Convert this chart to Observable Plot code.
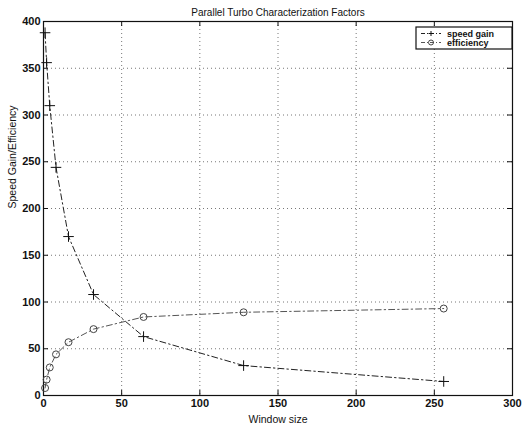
<!DOCTYPE html>
<html>
<head>
<meta charset="utf-8">
<script src="https://cdn.jsdelivr.net/npm/d3@7"></script>
<script src="https://cdn.jsdelivr.net/npm/@observablehq/plot@0.6"></script>
<style>
  html, body { margin: 0; padding: 0; background: #fff; }
  svg { display: block; }
</style>
</head>
<body>
<div id="chart"></div>
<script>
const windowSize = [1, 2, 4, 8, 16, 32, 64, 128, 256];
const speedGain = [388, 356, 310, 244, 170, 108, 63, 32, 15];
const efficiency = [8, 17, 30, 44, 57, 71, 84, 89, 93];
const xTicks = [0, 50, 100, 150, 200, 250, 300];
const yTicks = [0, 50, 100, 150, 200, 250, 300, 350, 400];
const seriesNames = ["speed gain", "efficiency"];
const titleText = "Parallel Turbo Characterization Factors";
const xLabel = "Window size";
const yLabel = "Speed Gain/Efficiency";

const sg = windowSize.map((w, i) => ({w, v: speedGain[i]}));
const ef = windowSize.map((w, i) => ({w, v: efficiency[i]}));

const W = 522, H = 427, mL = 43, mR = 10, mT = 21, mB = 32;
const innerW = W - mL - mR, innerH = H - mT - mB;
const font = "'Liberation Sans', Arial, sans-serif";
const dashDot = "6,3,1.5,3";

const chart = Plot.plot({
  width: W, height: H,
  marginLeft: mL, marginRight: mR, marginTop: mT, marginBottom: mB,
  style: {fontFamily: font, background: "#fff", color: "#111"},
  x: {domain: [0, 300]},
  y: {domain: [0, 400]},
  marks: [
    Plot.ruleX(xTicks.slice(1, -1), {stroke: "#777", strokeDasharray: "1,3"}),
    Plot.ruleY(yTicks.slice(1, -1), {stroke: "#777", strokeDasharray: "1,3"}),
    Plot.frame({stroke: "#111", strokeWidth: 1.2}),
    Plot.tickX(xTicks, {x: d => d, insetTop: innerH - 5, stroke: "#111"}),
    Plot.tickX(xTicks, {x: d => d, insetBottom: innerH - 5, stroke: "#111"}),
    Plot.tickY(yTicks, {y: d => d, insetRight: innerW - 5, stroke: "#111"}),
    Plot.tickY(yTicks, {y: d => d, insetLeft: innerW - 5, stroke: "#111"}),
    Plot.axisX({ticks: xTicks, tickSize: 0, tickPadding: 4, label: null, fontSize: 11, fontWeight: "bold"}),
    Plot.axisY({ticks: yTicks, tickSize: 0, tickPadding: 3, label: null, fontSize: 11, fontWeight: "bold"}),
    Plot.line(sg, {x: "w", y: "v", stroke: "#222", strokeWidth: 1, strokeDasharray: dashDot}),
    Plot.dot(sg, {x: "w", y: "v", symbol: "plus", r: 3.5, stroke: "#111", strokeWidth: 1}),
    Plot.line(ef, {x: "w", y: "v", stroke: "#555", strokeWidth: 1, strokeDasharray: dashDot}),
    Plot.dot(ef, {x: "w", y: "v", symbol: "circle", r: 3.5, stroke: "#444", strokeWidth: 1, fill: "none"}),
    Plot.text([titleText], {text: d => d, frameAnchor: "top", dy: -13, fontSize: 10, fill: "#111"}),
    Plot.text([xLabel], {text: d => d, frameAnchor: "bottom", dy: 27, fontSize: 10.5, fill: "#111"}),
    Plot.text([yLabel], {text: d => d, frameAnchor: "left", dx: -31, rotate: -90, fontSize: 10.5, fill: "#111"})
  ]
});

// Legend box inside the plot frame (top-right)
const svg = d3.select(chart);
const lg = svg.append("g").attr("font-family", font).attr("text-anchor", "start");
const lx = 416, ly = 27, lw = W - mR - lx, lh = 22;
lg.append("rect").attr("x", lx).attr("y", ly).attr("width", lw).attr("height", lh)
  .attr("fill", "#fff").attr("stroke", "#111").attr("stroke-width", 1.2);
const styles = [
  {stroke: "#222", sym: "plus"},
  {stroke: "#555", sym: "circle"}
];
seriesNames.forEach((name, i) => {
  const y = ly + 6.5 + i * 9;
  lg.append("line").attr("x1", lx + 5).attr("x2", lx + 25).attr("y1", y).attr("y2", y)
    .attr("stroke", styles[i].stroke).attr("stroke-dasharray", "4,2,1,2");
  if (styles[i].sym === "plus") {
    lg.append("path").attr("d", `M${lx + 15 - 2.5},${y}h5M${lx + 15},${y - 2.5}v5`).attr("stroke", "#111").attr("fill", "none");
  } else {
    lg.append("circle").attr("cx", lx + 15).attr("cy", y).attr("r", 2.5).attr("fill", "none").attr("stroke", "#444");
  }
  lg.append("text").attr("x", lx + 31).attr("y", y).attr("dy", "0.35em").attr("text-anchor", "start")
    .attr("font-size", 9).attr("font-weight", "bold").attr("fill", "#111").text(name);
});

document.getElementById("chart").append(chart);
</script>
</body>
</html>
